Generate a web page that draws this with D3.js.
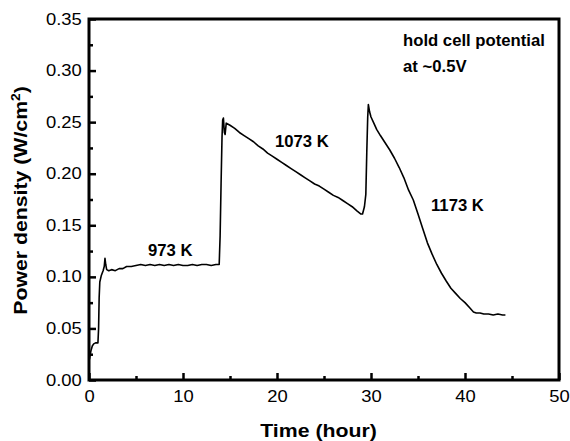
<!DOCTYPE html>
<html>
<head>
<meta charset="utf-8">
<script src="https://cdn.jsdelivr.net/npm/d3@7"></script>
<style>
  body { margin: 0; background: #fff; }
  text { font-family: "Liberation Sans", Arial, sans-serif; fill: #000; }
</style>
</head>
<body>
<div id="chart"></div>
<script>
// time (hour) and power density (W/cm2)
var hours = [0.05, 0.2, 0.35, 0.5, 0.7, 0.95, 1.02, 1.08, 1.15, 1.3, 1.5, 1.62, 1.7, 1.78, 1.88,
  2.1, 2.4, 2.8, 3.2, 3.6, 4.0, 4.5, 5.0, 5.5, 6.0, 6.5, 7.0, 7.5, 8.0, 8.5, 9.0, 9.5, 10.0,
  10.5, 11.0, 11.5, 12.0, 12.5, 13.0, 13.5, 13.85, 13.95, 14.05, 14.15, 14.22, 14.3, 14.4, 14.48,
  14.6, 14.8, 15.0, 15.5, 16.0, 16.5, 17.0, 17.5, 18.0, 18.5, 19.0, 19.5, 20.0, 20.5, 21.0, 21.5,
  22.0, 22.5, 23.0, 23.5, 24.0, 24.5, 25.0, 25.5, 26.0, 26.5, 27.0, 27.5, 28.0, 28.5, 28.9, 29.1,
  29.3, 29.45, 29.55, 29.65, 29.72, 29.85, 30.0, 30.3, 30.6, 31.0, 31.5, 32.0, 32.5, 33.0, 33.5,
  34.0, 34.5, 35.0, 35.5, 36.0, 36.5, 37.0, 37.5, 38.0, 38.5, 39.0, 39.5, 40.0, 40.5, 40.9, 41.2,
  41.6, 42.0, 42.5, 43.0, 43.5, 44.0, 44.3];
var power = [0.020, 0.028, 0.033, 0.035, 0.036, 0.036, 0.050, 0.080, 0.095, 0.101, 0.106, 0.110, 0.118, 0.112, 0.107,
  0.106, 0.107, 0.106, 0.108, 0.108, 0.110, 0.110, 0.111, 0.112, 0.111, 0.112, 0.111, 0.112, 0.111, 0.112, 0.111, 0.112, 0.111,
  0.111, 0.112, 0.111, 0.112, 0.112, 0.111, 0.112, 0.112, 0.140, 0.190, 0.235, 0.252, 0.254, 0.240, 0.238,
  0.249, 0.248, 0.247, 0.244, 0.240, 0.237, 0.234, 0.231, 0.227, 0.224, 0.220, 0.217, 0.214, 0.211, 0.208, 0.205,
  0.202, 0.199, 0.196, 0.193, 0.190, 0.188, 0.185, 0.182, 0.179, 0.177, 0.174, 0.171, 0.168, 0.164, 0.161, 0.161,
  0.168, 0.180, 0.220, 0.255, 0.267, 0.260, 0.255, 0.249, 0.243, 0.237, 0.230, 0.223, 0.215, 0.206, 0.196,
  0.184, 0.1745, 0.161, 0.147, 0.133, 0.122, 0.112, 0.1035, 0.096, 0.089, 0.084, 0.079, 0.075, 0.070, 0.066, 0.065,
  0.065, 0.064, 0.064, 0.063, 0.064, 0.063, 0.063];

var xTicks = [0, 10, 20, 30, 40, 50];
var xMinor = [5, 15, 25, 35, 45];
var yTicks = [0, 0.05, 0.10, 0.15, 0.20, 0.25, 0.30, 0.35];
var yMinor = [0.025, 0.075, 0.125, 0.175, 0.225, 0.275, 0.325];

var labels = ["973 K", "1073 K", "1173 K"];
var labelAt = [[148, 256], [275, 147], [431, 211]];
var note = ["hold cell potential", "at ~0.5V"];

var svg = d3.select("#chart").append("svg").attr("width", 570).attr("height", 441),
    plotL = 89, plotT = 19, plotR = 559, plotB = 380;

var xScale = d3.scaleLinear().domain([0, 50]).range([plotL, plotR]),
    yScale = d3.scaleLinear().domain([0, 0.35]).range([plotB, plotT]);

// major ticks point inside the box
var xAxis = svg.append("g")
   .attr("transform", "translate(0," + plotB + ")")
   .call(d3.axisBottom(xScale).tickValues(xTicks).tickSize(-7).tickPadding(10.5)
         .tickFormat(function(d) { return d; }));
var yAxis = svg.append("g")
   .attr("transform", "translate(" + plotL + ",0)")
   .call(d3.axisLeft(yScale).tickValues(yTicks).tickSize(-7).tickPadding(6.3)
         .tickFormat(d3.format(".2f")));

svg.append("g")
   .attr("transform", "translate(0," + plotB + ")")
   .call(d3.axisBottom(xScale).tickValues(xMinor).tickSize(-4).tickFormat(""));
svg.append("g")
   .attr("transform", "translate(" + plotL + ",0)")
   .call(d3.axisLeft(yScale).tickValues(yMinor).tickSize(-4).tickFormat(""));

svg.selectAll(".domain").remove();
svg.selectAll(".tick line").attr("stroke", "#000").attr("stroke-width", 2.5);
svg.selectAll(".tick text")
   .attr("font-size", "16px")
   .attr("font-family", "Liberation Sans, Arial, sans-serif")
   .attr("fill", "#000");
// the scan is a bit wide, stretch the tick labels to match
xAxis.selectAll(".tick text").attr("transform", "scale(1.15,1)");
yAxis.selectAll(".tick text").attr("transform", "scale(1.15,1)");

svg.append("rect")
   .attr("x", plotL).attr("y", plotT)
   .attr("width", plotR - plotL).attr("height", plotB - plotT)
   .attr("fill", "none").attr("stroke", "#000").attr("stroke-width", 3);

var line = d3.line()
   .x(function(d, i) { return xScale(hours[i]); })
   .y(function(d) { return yScale(d); });

svg.append("path")
   .datum(power)
   .attr("d", line)
   .attr("fill", "none")
   .attr("stroke", "#000")
   .attr("stroke-width", 1.6)
   .attr("stroke-linejoin", "round");

svg.selectAll(".temp")
   .data(labels)
   .enter().append("text")
   .attr("class", "temp")
   .attr("x", function(d, i) { return labelAt[i][0]; })
   .attr("y", function(d, i) { return labelAt[i][1]; })
   .attr("font-size", "16.7px")
   .attr("font-weight", "bold")
   .text(function(d) { return d; });

svg.selectAll(".note")
   .data(note)
   .enter().append("text")
   .attr("class", "note")
   .attr("x", 403)
   .attr("y", function(d, i) { return 46 + i * 26; })
   .attr("font-size", "16.7px")
   .attr("font-weight", "bold")
   .text(function(d) { return d; });

svg.append("text")
   .attr("transform", "translate(318.5,437) scale(1.15,1)")
   .attr("text-anchor", "middle")
   .attr("font-size", "18.5px")
   .attr("font-weight", "bold")
   .text("Time (hour)");

var ylab = svg.append("text")
   .attr("transform", "translate(27,200.5) rotate(-90) scale(1.15,1)")
   .attr("text-anchor", "middle")
   .attr("font-size", "18.5px")
   .attr("font-weight", "bold");
ylab.append("tspan").text("Power density (W/cm");
ylab.append("tspan").attr("font-size", "12px").attr("dy", "-0.6em").text("2");
ylab.append("tspan").attr("dy", "0.4em").text(")");
</script>
</body>
</html>
